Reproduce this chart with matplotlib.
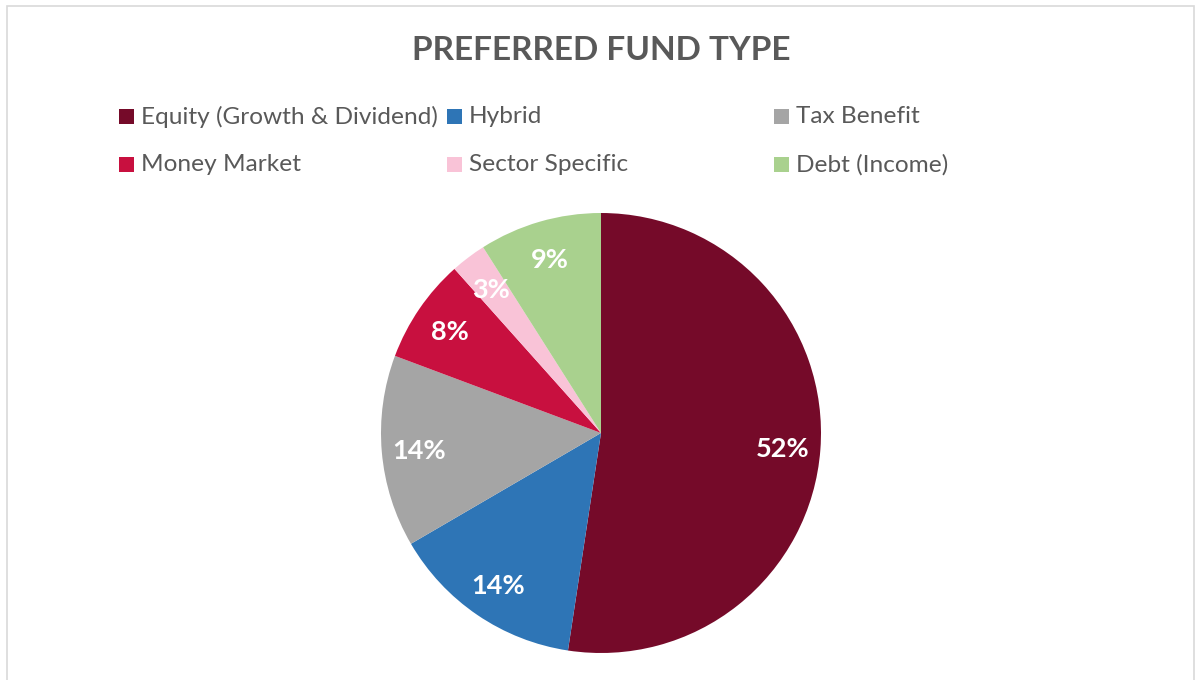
import matplotlib
matplotlib.use("Agg")
import matplotlib.pyplot as plt
from matplotlib.patches import Rectangle

plt.rcParams["font.family"] = ["Lato", "DejaVu Sans"]

# data
labels = ["Equity (Growth & Dividend)", "Hybrid", "Tax Benefit",
          "Money Market", "Sector Specific", "Debt (Income)"]
shares = [52.4, 14.2, 14.1, 7.7, 2.6, 9.0]
colors = ["#750A29", "#2E75B6", "#A5A5A5", "#C8103F", "#F9C3D7", "#A9D18E"]

W, H = 1195, 680
TXT = "#595959"

fig = plt.figure(figsize=(W / 100, H / 100), dpi=100)
fig.patch.set_facecolor("white")


def fx(px):
    return px / W


def fy(py):
    return 1 - py / H


# outer chart frame (bottom edge is cut off in the reference)
fig.patches.append(Rectangle((fx(7), fy(700)), fx(1194) - fx(7), fy(6) - fy(700),
                             transform=fig.transFigure, fill=False,
                             edgecolor="#D9D9D9", linewidth=1.2))

# pie centred at (601, 433), radius 220 px
cx, cy, r = 601, 433, 220
ax = fig.add_axes([fx(cx - r), fy(cy + r), 2 * r / W, 2 * r / H])
wedges, _, autotexts = ax.pie(
    shares, colors=colors, startangle=90, counterclock=False,
    autopct="%.0f%%", pctdistance=0.83, radius=1,
    wedgeprops=dict(linewidth=0),
    textprops=dict(color="white", fontsize=19.5, fontweight="bold"))
for t in autotexts:
    x, y = t.get_position()
    t.set_position((x, y - 0.01))
ax.set_xlim(-1, 1)
ax.set_ylim(-1, 1)
ax.set_aspect("equal")
ax.axis("off")

fig.text(fx(601), fy(51), "PREFERRED FUND TYPE", ha="center", va="center",
         fontsize=24, fontweight="bold", color=TXT)

# legend in Excel-style grid
col_x = [119, 447, 774]
row_y = [116.5, 164.5]
sq = 15
for i, (lab, col) in enumerate(zip(labels, colors)):
    x0 = col_x[i % 3]
    y0 = row_y[i // 3]
    fig.patches.append(Rectangle((fx(x0), fy(y0 + sq / 2)), sq / W, sq / H,
                                 transform=fig.transFigure, facecolor=col,
                                 edgecolor="none"))
    fig.text(fx(x0 + sq + 7), fy(y0), lab, ha="left", va="center",
             fontsize=17.6, color=TXT)

fig.savefig("out.png", dpi=100, facecolor="white")
